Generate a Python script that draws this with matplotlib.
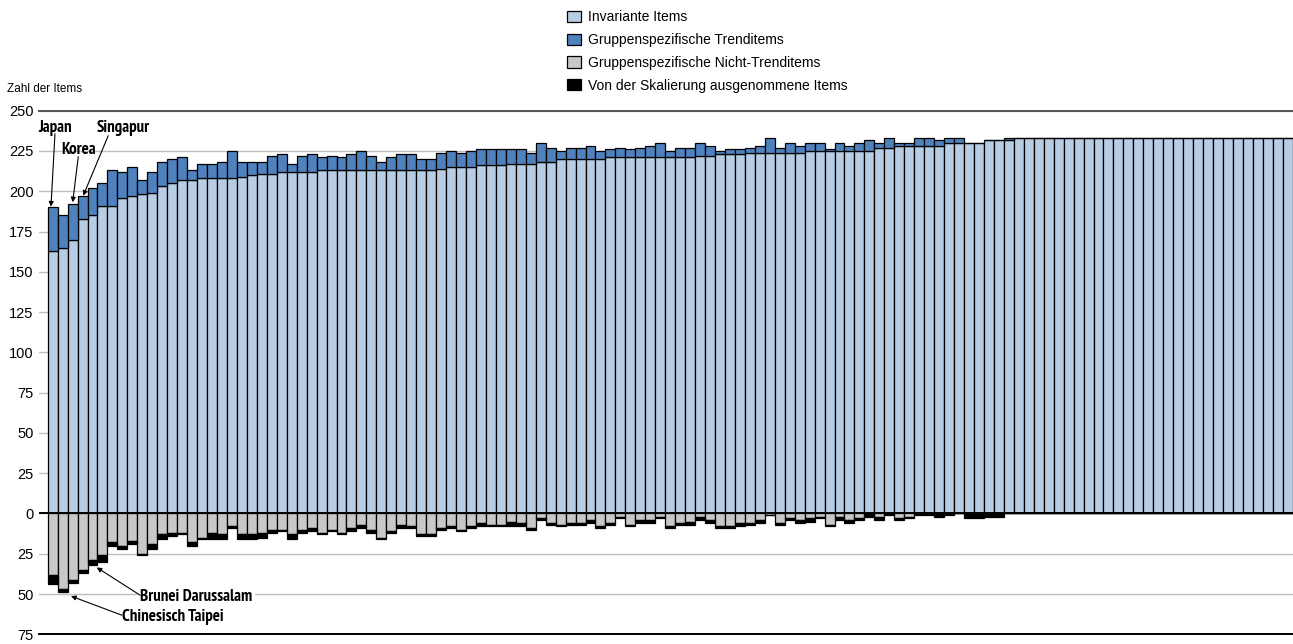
import matplotlib
matplotlib.use("Agg")
import matplotlib.pyplot as plt
import matplotlib.font_manager as fm
import numpy as np

plt.rcParams['font.family'] = ['Liberation Sans', 'DejaVu Sans']

# ---- data ----
invariant = [163, 165, 170, 183, 185, 191, 191, 196, 197, 198,
             199, 203, 205, 207, 207, 208, 208, 208, 208, 209,
             210, 211, 211, 212, 212, 212, 212, 213, 213, 213,
             213, 213, 213, 213, 213, 213, 213, 213, 213, 214,
             215, 215, 215, 216, 216, 216, 217, 217, 217, 218,
             218, 220, 220, 220, 220, 220, 221, 221, 221, 221,
             221, 221, 221, 221, 221, 222, 222, 223, 223, 223,
             224, 224, 224, 224, 224, 224, 225, 225, 225, 225,
             225, 225, 225, 227, 227, 228, 228, 228, 228, 228,
             230, 230, 230, 230, 232, 232, 232] + [233] * 28
trend = [27, 20, 22, 14, 17, 14, 22, 16, 18, 9,
         13, 15, 15, 14, 6, 9, 9, 10, 17, 9,
         8, 7, 11, 11, 5, 10, 11, 8, 9, 8,
         10, 12, 9, 5, 8, 10, 10, 7, 7, 10,
         10, 9, 10, 10, 10, 10, 9, 9, 7, 12,
         9, 5, 7, 7, 8, 5, 5, 6, 5, 6,
         7, 9, 4, 6, 6, 8, 6, 2, 3, 3,
         3, 4, 9, 3, 6, 4, 5, 5, 1, 5,
         3, 5, 7, 3, 6, 2, 2, 5, 5, 4,
         3, 3, 0, 0, 0, 0, 1] + [0] * 28
nontrend = [38, 47, 41, 35, 29, 26, 18, 20, 17, 25,
            19, 13, 12, 12, 18, 15, 12, 13, 8, 13,
            13, 12, 10, 10, 13, 10, 9, 12, 10, 12,
            9, 7, 10, 15, 11, 7, 8, 13, 13, 9,
            8, 10, 8, 6, 7, 7, 5, 6, 9, 3,
            6, 7, 6, 6, 4, 8, 6, 2, 7, 4,
            4, 2, 8, 6, 5, 2, 4, 8, 8, 6,
            6, 4, 1, 6, 3, 4, 3, 2, 7, 2,
            4, 3, 0, 2, 0, 3, 2, 0, 0, 0,
            0, 0, 0, 0, 0, 0, 0] + [0] * 28
excluded = [6, 2, 2, 2, 3, 4, 2, 2, 2, 1,
            3, 3, 2, 1, 2, 1, 4, 3, 1, 3,
            3, 3, 2, 1, 3, 2, 2, 1, 1, 1,
            2, 2, 2, 1, 1, 2, 1, 1, 1, 1,
            1, 1, 1, 2, 1, 1, 3, 2, 1, 1,
            1, 1, 1, 1, 2, 1, 1, 1, 1, 2,
            2, 1, 1, 1, 2, 2, 2, 1, 1, 2,
            1, 2, 0, 1, 1, 2, 2, 1, 1, 2,
            2, 1, 2, 2, 1, 1, 1, 1, 1, 2,
            1, 0, 3, 3, 2, 2, 0] + [0] * 28

legend_labels = ["Invariante Items", "Gruppenspezifische Trenditems",
                 "Gruppenspezifische Nicht-Trenditems",
                 "Von der Skalierung ausgenommene Items"]
yticks = [-75, -50, -25, 0, 25, 50, 75, 100, 125, 150, 175, 200, 225, 250]
ytick_labels = ["75", "50", "25", "0", "25", "50", "75", "100", "125",
                "150", "175", "200", "225", "250"]
y_label = "Zahl der Items"


def find_narrow_bold():
    """Look for an installed narrow / condensed bold sans font."""
    best = None
    for f in fm.fontManager.ttflist:
        nm = f.name.lower()
        fn = f.fname.lower()
        st = f.stretch
        cond = ('narrow' in nm or 'narrow' in fn or
                ('condensed' in nm or 'condensed' in fn) and 'semi' not in nm and 'semi' not in fn
                and 'extra' not in nm and 'extra' not in fn)
        if isinstance(st, str) and st == 'condensed':
            cond = True
        if not cond or 'mono' in nm or 'serif' in nm:
            continue
        if 'italic' in str(f.style) or 'oblique' in str(f.style):
            continue
        w = f.weight
        wnum = w if isinstance(w, (int, float)) else fm.weight_dict.get(w, 400)
        if wnum < 600 or wnum > 750:
            continue
        score = 0 if 'narrow' in nm else 1
        if best is None or score < best[0]:
            best = (score, f.fname)
    return best[1] if best else None


inv = np.array(invariant)
tr = np.array(trend)
nt = np.array(nontrend)
ex = np.array(excluded)
x = np.arange(len(inv))

W, H = 1293, 644
fig = plt.figure(figsize=(W / 100, H / 100), dpi=100)
ax = fig.add_axes([39 / W, (H - 634.3) / H, (W - 39) / W, (634.3 - 110.7) / H])

c_inv, c_tr, c_nt, c_ex = "#B8CCE4", "#4F81BD", "#C8C8C8", "#000000"
ekw = dict(width=1.0, edgecolor="black", linewidth=0.9, zorder=3)
b1 = ax.bar(x, inv, color=c_inv, **ekw)
b2 = ax.bar(x, tr, bottom=inv, color=c_tr, **ekw)
b3 = ax.bar(x, -nt, color=c_nt, **ekw)
b4 = ax.bar(x, -ex, bottom=-nt, color=c_ex, **ekw)

ax.set_xlim(-1.373, len(inv) - 0.47)
ax.set_ylim(-75, 250)
ax.set_xticks([])
ax.set_yticks(yticks)
ax.set_yticklabels(ytick_labels, fontsize=10.5)
ax.tick_params(axis='y', length=0, pad=4)
ax.yaxis.grid(True, color="#BEBEBE", linewidth=1.0, zorder=0)
ax.set_axisbelow(True)
ax.axhline(0, color="black", linewidth=1.4, zorder=4)
for s in ["left", "right"]:
    ax.spines[s].set_visible(False)
ax.spines["top"].set_color("#555555")
ax.spines["top"].set_linewidth(1.4)
ax.spines["bottom"].set_color("black")
ax.spines["bottom"].set_linewidth(1.4)

fig.text(7 / W, 1 - 92 / H, y_label, fontsize=8.5, va="baseline", ha="left")

fig.legend([b1, b2, b3, b4], legend_labels, loc="upper left",
           bbox_to_anchor=(567 / W, 1 - 10 / H), frameon=False, fontsize=10,
           handlelength=1.0, handleheight=0.85, handletextpad=0.5,
           borderpad=0, borderaxespad=0, labelspacing=0.64)

# ---- annotations ----
nb = find_narrow_bold()
if nb:
    bprop = fm.FontProperties(fname=nb, size=11)
else:
    bprop = fm.FontProperties(family="Liberation Sans", weight="bold", size=11)

labels = [("Japan", -1.44, 236.8), ("Korea", 0.906, 223.2), ("Singapur", 4.42, 236.8),
          ("Brunei Darussalam", 8.77, -54.2), ("Chinesisch Taipei", 6.93, -67.0)]
texts = []
for s, tx, ty in labels:
    kw = {}
    if s == "Brunei Darussalam":
        kw["bbox"] = dict(boxstyle="square,pad=0.15", fc="white", ec="none")
    texts.append(ax.text(tx, ty, s, fontproperties=bprop, ha="left", va="baseline",
                         zorder=6, **kw))
# fit width of the bold labels to the reference (Brunei Darussalam ~112 px)
renderer = fig.canvas.get_renderer()
wpx = texts[3].get_window_extent(renderer).width
size = max(9.0, min(12.5, 11.0 * 112.0 / wpx))
for t in texts:
    t.set_fontsize(size)

akw = dict(arrowstyle="-|>", color="black", lw=0.8, mutation_scale=7,
           shrinkA=0, shrinkB=0)
arrows = [((0.23, 235.7), (-0.17, 190.5)),
          ((2.57, 221.5), (2.01, 193.2)),
          ((5.58, 234.5), (3.07, 197.3)),
          ((8.77, -50.7), (4.42, -33.5)),
          ((6.93, -63.1), (1.84, -51.3))]
for start, tip in arrows:
    ax.annotate("", xy=tip, xytext=start, arrowprops=akw, zorder=6)

fig.savefig("out.png", dpi=100)
